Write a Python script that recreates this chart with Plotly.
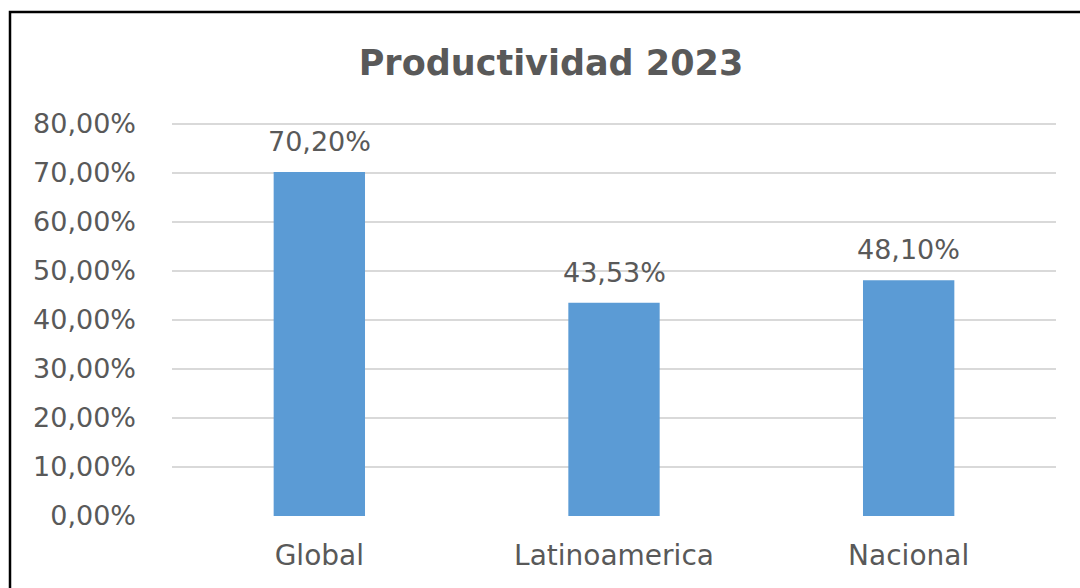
import plotly.graph_objects as go

categories = ["Global", "Latinoamerica", "Nacional"]
values = [0.7020, 0.4353, 0.4810]
tick_vals = [0, 0.1, 0.2, 0.3, 0.4, 0.5, 0.6, 0.7, 0.8]

grey = "#595959"
font_family = "DejaVu Sans, Verdana, sans-serif"

fig = go.Figure(
    go.Bar(
        x=categories,
        y=values,
        marker=dict(color="#5b9bd5", line=dict(width=0)),
        width=0.31,
        hoverinfo="x+y",
    )
)

W, H = 1080, 588
L, R, T, B = 172, 24, 122, 72
pw, ph = W - L - R, H - T - B
y_top = 0.8 * ph / 392.0

annotations = [
    dict(
        x=c,
        y=v,
        xref="x",
        yref="y",
        text=f"{v * 100:.2f}%".replace(".", ","),
        showarrow=False,
        yanchor="bottom",
        xanchor="center",
        yshift=13,
        font=dict(size=27, color=grey, family=font_family),
    )
    for c, v in zip(categories, values)
]

fig.update_layout(
    width=W,
    height=H,
    separators=",.",
    margin=dict(l=L, r=R, t=T, b=B, pad=0),
    paper_bgcolor="white",
    plot_bgcolor="white",
    showlegend=False,
    bargap=0.69,
    annotations=annotations,
    title=dict(
        text="<b>Productividad 2023</b>",
        x=551 / W,
        xref="container",
        xanchor="center",
        y=1 - 63 / H,
        yref="container",
        yanchor="middle",
        font=dict(size=35, color=grey, family=font_family),
    ),
    xaxis=dict(
        showgrid=False,
        showline=False,
        ticks="",
        tickfont=dict(size=28, color=grey, family=font_family),
        ticklabelstandoff=20,
    ),
    yaxis=dict(
        range=[0, y_top],
        tickvals=tick_vals,
        tickformat=".2%",
        showgrid=True,
        gridcolor="#d9d9d9",
        gridwidth=2,
        zeroline=False,
        showline=False,
        ticks="",
        ticklabelstandoff=35,
        tickfont=dict(size=27, color=grey, family=font_family),
    ),
    shapes=[
        dict(
            type="rect",
            xref="paper",
            yref="paper",
            x0=(10 - L) / pw,
            x1=(1100 - L) / pw,
            y0=(H - B - 600) / ph,
            y1=(H - B - 12) / ph,
            line=dict(color="black", width=2.5),
            fillcolor="rgba(0,0,0,0)",
            layer="above",
        )
    ],
)

fig.write_html(
    "out.html",
    config={"displayModeBar": False},
    post_script="document.body.style.margin='0';document.body.style.overflow='hidden';",
)
